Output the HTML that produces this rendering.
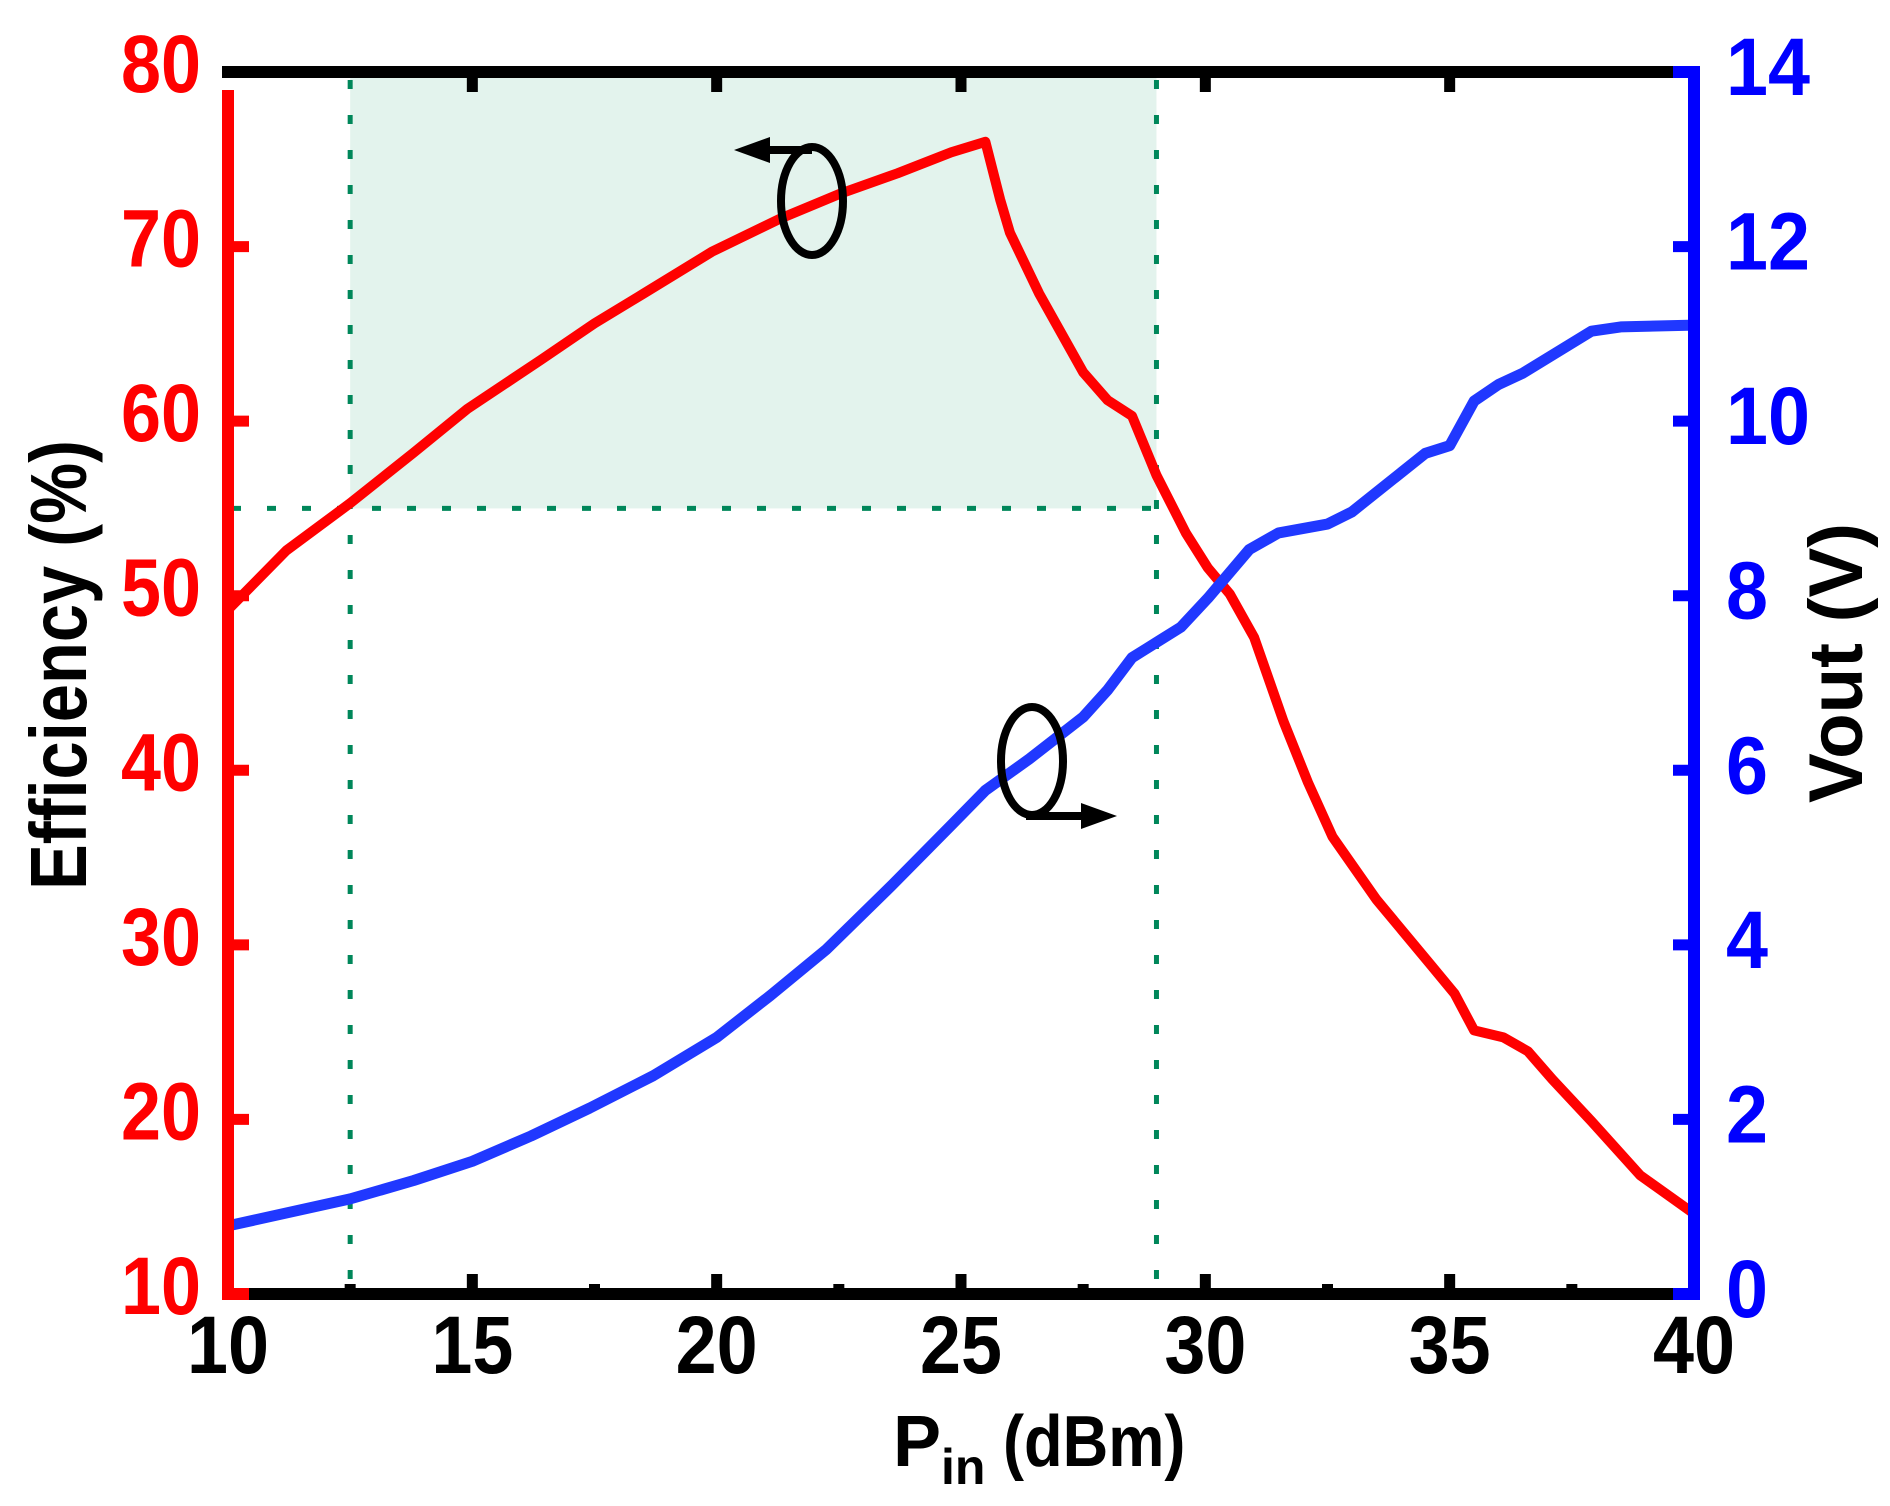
<!DOCTYPE html>
<html><head><meta charset="utf-8"><style>
html,body{margin:0;padding:0;background:#fff;}
svg{display:block;font-family:"Liberation Sans",sans-serif;font-weight:bold;}
</style></head><body>
<svg id="chart" width="1890" height="1506" viewBox="0 0 1890 1506" xmlns="http://www.w3.org/2000/svg">
<g id="bg"></g>
<g id="plot"></g>
<g id="axes"></g>
<g id="labels"></g>
</svg>
<script>
const xTicks = [10,15,20,25,30,35,40];
const xMinor = [12.5,17.5,22.5,27.5,32.5,37.5];
const effTicks = [10,20,30,40,50,60,70,80];
const voutTicks = [0,2,4,6,8,10,12,14];
const effX = [10,11.2,12.5,13.8,14.9,16.4,17.5,18.5,19.9,21.3,22.5,23.7,24.8,25.5,25.8,26.0,26.6,27.5,28.0,28.5,29.0,29.6,30.05,30.5,31.0,31.6,32.1,32.6,33.5,34.6,35.1,35.5,36.1,36.6,37.1,37.9,38.9,40];
const effY = [49.2,52.6,55.3,58.2,60.7,63.5,65.6,67.3,69.7,71.6,73.0,74.2,75.4,76.0,72.7,70.8,67.3,62.8,61.2,60.3,56.9,53.6,51.6,50.1,47.6,42.8,39.3,36.2,32.6,28.9,27.2,25.1,24.7,23.9,22.3,19.9,16.8,14.6];
const voutX = [10,12.5,13.8,15,16.2,17.4,18.7,20,21.1,22.25,23.6,24.8,25.5,26.4,27.5,28,28.5,29.5,30.05,30.9,31.5,32.5,33.0,34.5,35.0,35.5,36.0,36.5,37.9,38.5,40];
const voutY = [0.78,1.09,1.30,1.52,1.81,2.13,2.50,2.94,3.42,3.95,4.69,5.37,5.77,6.13,6.61,6.92,7.29,7.64,7.97,8.53,8.72,8.82,8.96,9.63,9.72,10.23,10.42,10.55,11.03,11.08,11.1];
const regionX = [12.5,29];
const regionEff = 55;

const NS="http://www.w3.org/2000/svg";
const X0=228,X1=1694,Y0=1294,Y1=72;
const xs=v=>X0+(v-10)*(X1-X0)/30;
const ye=v=>Y0-(v-10)*(Y0-Y1)/70;
const yv=v=>Y0-v*(Y0-Y1)/14;
function mk(tag,attrs,parent){const e=document.createElementNS(NS,tag);for(const k in attrs)e.setAttribute(k,attrs[k]);document.getElementById(parent).appendChild(e);return e;}

let r=mk('rect',{x:xs(regionX[0]),y:Y1,width:xs(regionX[1])-xs(regionX[0]),height:ye(regionEff)-Y1,fill:'#e3f3ed'},'bg');


let d1=mk('line',{x1:xs(regionX[0]),x2:xs(regionX[0]),y1:Y1+8,y2:Y0,stroke:'#00875a','stroke-width':5,'stroke-dasharray':'9 26'},'bg');


let d2=mk('line',{x1:xs(regionX[1]),x2:xs(regionX[1]),y1:Y1+8,y2:Y0,stroke:'#00875a','stroke-width':5,'stroke-dasharray':'9 26'},'bg');


let d3=mk('line',{x1:X0+4,x2:xs(regionX[1]),y1:ye(regionEff),y2:ye(regionEff),stroke:'#00875a','stroke-width':5,'stroke-dasharray':'9 26'},'bg');



let pe=effX.map((x,i)=>xs(x).toFixed(1)+','+ye(effY[i]).toFixed(1)).join(' ');
let l1=mk('polyline',{points:pe,fill:'none',stroke:'#f00','stroke-width':10,'stroke-linejoin':'round'},'plot');


let pv=voutX.map((x,i)=>xs(x).toFixed(1)+','+yv(voutY[i]).toFixed(1)).join(' ');
let l2=mk('polyline',{points:pv,fill:'none',stroke:'#2038ff','stroke-width':11,'stroke-linejoin':'round'},'plot');



let e1=mk('ellipse',{cx:812,cy:201,rx:31,ry:54,fill:'none',stroke:'#000','stroke-width':8},'plot');


let a1=mk('path',{d:'M812,150 L765,150',stroke:'#000','stroke-width':8,fill:'none'},'plot');


let a1h=mk('polygon',{points:'734,150 770,137 770,163',fill:'#000'},'plot');


let e2=mk('ellipse',{cx:1032,cy:761,rx:31,ry:54,fill:'none',stroke:'#000','stroke-width':8},'plot');


let a2=mk('path',{d:'M1026,816 L1085,816',stroke:'#000','stroke-width':8,fill:'none'},'plot');


let a2h=mk('polygon',{points:'1117,816 1081,803 1081,829',fill:'#000'},'plot');



let bx=mk('line',{x1:X0,x2:X1,y1:Y0,y2:Y0,stroke:'#000','stroke-width':12},'axes');


let tx=mk('line',{x1:X0-6,x2:X1,y1:Y1,y2:Y1,stroke:'#000','stroke-width':12},'axes');


xTicks.slice(1,-1).forEach(v=>{
  let t=mk('line',{x1:xs(v),x2:xs(v),y1:Y0,y2:Y0-20,stroke:'#000','stroke-width':11},'axes');
  
  
  let t2=mk('line',{x1:xs(v),x2:xs(v),y1:Y1,y2:Y1+20,stroke:'#000','stroke-width':11},'axes');
  
  
});
xMinor.forEach(v=>{
  let t=mk('line',{x1:xs(v),x2:xs(v),y1:Y0,y2:Y0-10,stroke:'#000','stroke-width':11},'axes');
  
  
});
let la=mk('line',{x1:X0,x2:X0,y1:90,y2:Y0+6,stroke:'#f00','stroke-width':12},'axes');


let lc=mk('line',{x1:X0,x2:249,y1:Y0,y2:Y0,stroke:'#f00','stroke-width':12},'axes');


effTicks.slice(1,-1).forEach(v=>{
  let t=mk('line',{x1:X0,x2:249,y1:ye(v),y2:ye(v),stroke:'#f00','stroke-width':11},'axes');
  
  
});
let ra=mk('line',{x1:X1,x2:X1,y1:Y1-6,y2:Y0+6,stroke:'#00f','stroke-width':12},'axes');


let rc=mk('line',{x1:1673,x2:X1,y1:Y1,y2:Y1,stroke:'#00f','stroke-width':12},'axes');


let rc2=mk('line',{x1:1673,x2:X1,y1:Y0,y2:Y0,stroke:'#00f','stroke-width':12},'axes');


voutTicks.slice(1,-1).forEach(v=>{
  let t=mk('line',{x1:1673,x2:X1,y1:yv(v),y2:yv(v),stroke:'#00f','stroke-width':11},'axes');
  
  
});

xTicks.forEach(v=>{
  let t=mk('text',{x:xs(v),y:1373,'text-anchor':'middle','font-size':82,fill:'#000',textLength:82,lengthAdjust:'spacingAndGlyphs'},'labels');
  t.textContent=v;
  
  
});
effTicks.forEach(v=>{
  let t=mk('text',{x:201,y:ye(v)+20,'text-anchor':'end','font-size':82,fill:'#f00',textLength:80,lengthAdjust:'spacingAndGlyphs'},'labels');
  t.textContent=v;
  
  
});
voutTicks.forEach(v=>{
  let s=String(v);
  let t=mk('text',{x:1726,y:yv(v)+23,'font-size':82,fill:'#00f',textLength:s.length*42,lengthAdjust:'spacingAndGlyphs'},'labels');
  t.textContent=s;
  
  
});
</script>
<svg style="position:absolute;left:0;top:0" width="1890" height="1506" xmlns="http://www.w3.org/2000/svg">
<text transform="translate(86,665) rotate(-90)" text-anchor="middle" font-family="Liberation Sans, sans-serif" font-weight="bold" font-size="80" textLength="450" lengthAdjust="spacingAndGlyphs" fill="#000">Efficiency (%)</text>
<text transform="translate(1862,663) rotate(-90)" text-anchor="middle" font-family="Liberation Sans, sans-serif" font-weight="bold" font-size="76" textLength="280" lengthAdjust="spacingAndGlyphs" fill="#000">Vout (V)</text>
<text x="893" y="1466" font-family="Liberation Sans, sans-serif" font-weight="bold" font-size="72" fill="#000"><tspan>P</tspan><tspan font-size="50" dy="18">in</tspan><tspan dy="-18" textLength="200" lengthAdjust="spacingAndGlyphs"> (dBm)</tspan></text>
</svg>
</body></html>
